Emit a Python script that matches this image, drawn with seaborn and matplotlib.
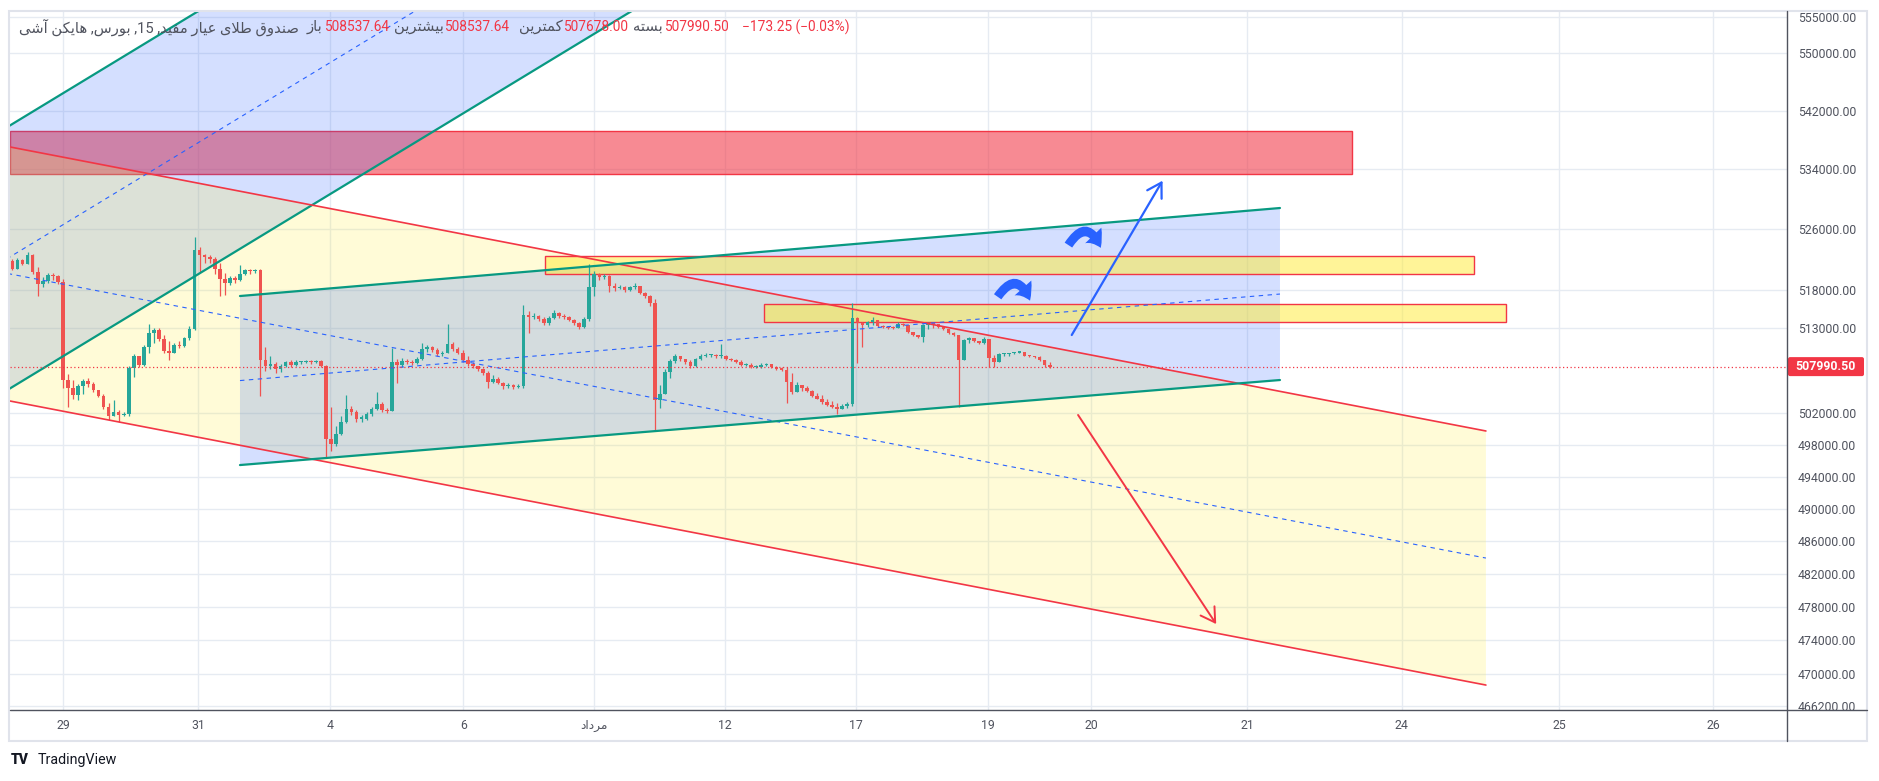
import re
import numpy as np
import pandas as pd
import matplotlib
matplotlib.use("Agg")
import matplotlib.pyplot as plt
import seaborn as sns
from matplotlib.patches import Rectangle, FancyArrowPatch, FancyBboxPatch, Polygon
from matplotlib.lines import Line2D
from matplotlib.ticker import NullLocator
from matplotlib.transforms import IdentityTransform

# ---------------- data ----------------
symbol_title = "صندوق طلای عیار مفید, 15, بورس, هایکن آشی"
ohlc_labels = ["باز", "بیشترین", "کمترین", "بسته"]
ohlc_values = ["508537.64", "508537.64", "507678.00", "507990.50"]
change_text = "\u2212173.25 (\u22120.03%)"
last_price = 507990.50
brand = "TradingView"

# candles (prices in thousands), bar index starts at first_bar, 13 bars per trading day
first_bar = 3
first_open = 521.75
closes = [
    # day 0
    520.76, 521.87, 521.38, 522.61, 520.27, 518.79, 519.16, 519.90, 519.78, 519.04,
    # 29
    506.22, 505.26, 504.30, 505.50, 506.10, 505.74, 505.02, 504.18, 502.87, 501.69, 502.16, 501.81, 501.93,
    # 30
    507.77, 509.32, 508.25, 510.53, 512.35, 512.71, 511.50, 510.04, 509.68, 510.77, 510.65, 511.62, 512.84,
    # 31
    523.23, 522.49, 522.24, 522.00, 520.76, 519.41, 518.91, 519.53, 519.28, 520.02, 520.52, 520.39, 520.52,
    # 1
    508.84, 508.01, 508.37, 507.65, 508.13, 508.61, 508.25, 508.61, 508.61, 508.73, 508.61, 508.73, 508.13,
    # 4
    498.74, 498.15, 499.45, 500.98, 502.63, 502.16, 501.34, 501.34, 501.93, 502.52, 503.23, 502.40, 502.28,
    # 5
    508.61, 508.25, 508.73, 508.61, 508.49, 508.96, 510.28, 510.53, 510.16, 509.56, 509.80, 510.89, 510.28,
    # 6
    509.80, 508.84, 508.37, 508.01, 507.65, 507.17, 505.98, 506.46, 505.86, 505.50, 505.62, 505.38, 505.50,
    # 7
    514.66, 514.41, 514.54, 514.17, 513.69, 514.33, 514.94, 514.58, 514.45, 513.97, 513.61, 513.13, 514.09,
    # 8
    518.32, 520.01, 519.64, 519.77, 518.44, 518.20, 518.32, 517.95, 518.32, 518.44, 517.59, 517.11, 516.27,
    # 11
    503.66, 504.50, 507.24, 508.68, 509.39, 508.92, 508.56, 508.08, 508.92, 509.39, 509.51, 509.51, 509.39,
    # 12
    509.39, 508.92, 508.80, 508.56, 508.20, 508.20, 507.96, 507.96, 508.20, 508.32, 507.96, 507.72, 507.60,
    # 13
    506.05, 504.74, 505.57, 505.21, 504.86, 504.26, 503.90, 503.42, 503.06, 502.83, 502.59, 502.94, 503.18,
    # 17
    514.28, 513.63, 513.40, 513.76, 514.02, 513.24, 513.11, 513.00, 512.98, 513.50, 513.40, 512.40, 512.07,
    # 18
    511.81, 513.37, 513.63, 513.50, 513.10, 512.85, 512.33, 512.07, 508.85, 511.42, 511.68, 511.29, 510.98,
    # 19
    511.50, 509.10, 508.60, 509.61, 509.65, 509.74, 509.80, 509.87, 509.40, 509.30, 509.20, 508.85, 508.20, 507.99,
]
highs = [
    522.00, 522.12, 522.00, 522.98, 522.74, 521.01, 519.65, 520.15, 520.15, 519.90,
    519.41, 507.05, 506.22, 505.74, 506.46, 506.58, 505.98, 505.02, 504.42, 503.35, 503.71, 502.40, 502.16,
    508.01, 509.56, 509.32, 510.77, 513.44, 512.96, 512.96, 512.11, 511.26, 511.01, 511.26, 511.86, 513.20,
    524.96, 523.60, 522.74, 522.49, 522.24, 521.50, 520.15, 519.78, 519.78, 521.26, 520.76, 520.64, 520.64,
    520.64, 510.53, 509.32, 508.61, 508.37, 508.73, 508.84, 508.84, 508.73, 508.84, 508.84, 508.84, 508.84,
    508.25, 502.87, 500.39, 501.69, 504.30, 502.99, 502.40, 501.81, 502.16, 502.87, 504.78, 503.47, 502.75,
    510.40, 508.96, 509.08, 508.96, 508.84, 509.20, 511.01, 510.77, 510.65, 510.40, 510.04, 513.44, 511.13,
    510.53, 510.16, 509.32, 508.61, 508.13, 507.77, 507.41, 506.93, 506.70, 505.98, 505.86, 505.74, 505.74,
    515.99, 515.14, 514.90, 514.66, 514.41, 514.58, 515.30, 515.06, 514.82, 514.58, 514.09, 513.73, 514.45,
    521.33, 520.49, 520.13, 520.01, 519.89, 518.80, 518.56, 518.44, 518.44, 518.80, 518.44, 517.71, 517.23,
    516.75, 505.69, 507.72, 508.92, 509.63, 509.39, 509.03, 508.80, 509.15, 509.63, 509.75, 509.63, 509.63,
    510.96, 509.51, 509.15, 509.03, 508.80, 508.44, 508.44, 508.20, 508.44, 508.44, 508.32, 508.08, 507.96,
    507.96, 507.12, 506.05, 505.69, 505.45, 504.98, 504.62, 504.38, 503.78, 503.54, 503.30, 503.18, 503.42,
    516.24, 514.41, 513.70, 513.90, 514.41, 514.00, 513.37, 513.30, 513.24, 513.70, 513.63, 513.40, 512.40,
    512.10, 513.50, 513.76, 513.70, 513.50, 513.10, 512.85, 512.40, 512.10, 511.55, 511.81, 511.70, 511.30,
    511.81, 511.50, 509.50, 509.70, 509.74, 509.80, 509.90, 510.00, 509.87, 509.50, 509.40, 509.30, 508.85, 508.59,
]
lows = [
    520.52, 520.64, 521.26, 521.30, 520.02, 517.09, 518.30, 518.91, 519.28, 518.67,
    505.26, 502.87, 503.83, 503.71, 504.54, 505.38, 504.78, 504.06, 502.63, 501.22, 501.69, 500.98, 501.69,
    501.69, 506.70, 507.89, 508.01, 509.68, 511.01, 511.26, 509.80, 508.84, 509.80, 510.40, 510.53, 511.38,
    512.71, 520.27, 521.50, 521.50, 520.02, 517.09, 517.33, 518.54, 518.91, 519.16, 519.90, 520.02, 520.15,
    504.18, 507.41, 507.65, 507.17, 507.29, 507.89, 507.89, 508.01, 508.37, 508.49, 508.37, 508.49, 507.89,
    496.38, 497.21, 497.91, 499.21, 500.75, 501.81, 500.98, 500.86, 501.22, 501.69, 502.40, 502.16, 502.04,
    502.28, 505.86, 507.89, 508.37, 508.25, 508.37, 508.84, 509.92, 509.92, 509.32, 509.32, 509.80, 510.04,
    509.56, 508.61, 508.01, 507.77, 507.41, 506.93, 505.26, 505.86, 505.74, 505.14, 505.26, 505.14, 505.26,
    505.26, 512.35, 514.17, 513.93, 513.32, 513.37, 514.21, 514.33, 514.21, 513.85, 513.37, 512.89, 513.01,
    513.85, 517.11, 519.28, 519.40, 517.71, 517.83, 518.08, 517.71, 517.83, 518.08, 517.35, 516.87, 515.90,
    499.84, 502.71, 504.86, 506.53, 508.44, 508.68, 508.32, 507.84, 507.96, 508.80, 509.27, 509.27, 509.15,
    509.15, 508.80, 508.68, 508.44, 508.08, 508.08, 507.84, 507.84, 507.84, 508.08, 507.84, 507.60, 507.48,
    503.30, 504.50, 504.86, 504.86, 504.74, 504.14, 503.78, 503.18, 502.94, 502.71, 501.99, 502.59, 502.71,
    502.90, 508.46, 510.50, 513.10, 513.37, 513.10, 512.98, 512.90, 512.85, 512.98, 513.20, 512.30, 511.90,
    511.70, 511.16, 512.90, 513.00, 513.00, 512.75, 512.20, 511.95, 502.88, 508.80, 511.00, 511.16, 510.90,
    510.90, 507.95, 507.95, 508.60, 509.40, 509.40, 509.60, 509.70, 509.30, 509.20, 509.10, 508.70, 508.00, 507.82,
]

x_tick_pos = [13.0, 39.7, 65.8, 92.1, 117.9, 143.8, 169.7, 195.8, 216.2, 247.0, 277.6, 308.7, 339.1]
x_tick_labels = ["29", "31", "4", "6", "مرداد", "12", "17", "19", "20", "21", "24", "25", "26"]
y_ticks = [555000, 550000, 542000, 534000, 526000, 518000, 513000, 502000, 498000,
           494000, 490000, 486000, 482000, 478000, 474000, 470000, 466200]

# drawings: anchor points (bar index, price in thousands)
steep_upper_x, steep_upper_p = [0, 45], [538.91, 558.10]
steep_lower_x, steep_lower_p = [0, 130], [504.20, 557.83]
steep_mid_x, steep_mid_p = [0, 90], [521.27, 559.05]
desc_x = [0, 294.2]
desc_upper_p = [537.37, 499.78]
desc_lower_p = [503.90, 468.65]
desc_mid_p = [520.37, 483.96]
asc_x = [47.98, 253.5]
asc_upper_p = [517.15, 528.80]
asc_lower_p = [495.49, 506.27]
asc_mid_p = [506.20, 517.41]
red_zone = [2.6, 267.8, 533.37, 539.21]
yellow_zones = [[108.26, 291.9, 520.04, 522.42], [151.54, 298.2, 513.76, 516.11]]
up_arrow = [(212.35, 512.07), (230.3, 532.47)]
down_arrow = [(213.6, 501.81), (240.9, 475.94)]
curl_arrows = [[(211.4, 523.55), (218.3, 523.15)], [(197.4, 516.75), (204.3, 516.20)]]

# ---------------- helpers ----------------
AR_FORMS = {
    '\u0627': ('\uFE8D', '\uFE8E', None, None),
    '\u0622': ('\uFE81', '\uFE82', None, None),
    '\u0628': ('\uFE8F', '\uFE90', '\uFE91', '\uFE92'),
    '\u062A': ('\uFE95', '\uFE96', '\uFE97', '\uFE98'),
    '\u062F': ('\uFEA9', '\uFEAA', None, None),
    '\u0631': ('\uFEAD', '\uFEAE', None, None),
    '\u0632': ('\uFEAF', '\uFEB0', None, None),
    '\u0633': ('\uFEB1', '\uFEB2', '\uFEB3', '\uFEB4'),
    '\u0634': ('\uFEB5', '\uFEB6', '\uFEB7', '\uFEB8'),
    '\u0635': ('\uFEB9', '\uFEBA', '\uFEBB', '\uFEBC'),
    '\u0637': ('\uFEC1', '\uFEC2', '\uFEC3', '\uFEC4'),
    '\u0639': ('\uFEC9', '\uFECA', '\uFECB', '\uFECC'),
    '\u0641': ('\uFED1', '\uFED2', '\uFED3', '\uFED4'),
    '\u0642': ('\uFED5', '\uFED6', '\uFED7', '\uFED8'),
    '\u0644': ('\uFEDD', '\uFEDE', '\uFEDF', '\uFEE0'),
    '\u0645': ('\uFEE1', '\uFEE2', '\uFEE3', '\uFEE4'),
    '\u0646': ('\uFEE5', '\uFEE6', '\uFEE7', '\uFEE8'),
    '\u0647': ('\uFEE9', '\uFEEA', '\uFEEB', '\uFEEC'),
    '\u0648': ('\uFEED', '\uFEEE', None, None),
    '\u06A9': ('\uFB8E', '\uFB8F', '\uFB90', '\uFB91'),
    '\u06CC': ('\uFBFC', '\uFBFD', '\uFBFE', '\uFBFF'),
}
LAM_ALEF = {'\u0627': ('\uFEFB', '\uFEFC'), '\u0622': ('\uFEF5', '\uFEF6')}


def rtl(s):
    def dual(ch):
        f = AR_FORMS.get(ch)
        return f is not None and f[2] is not None
    out, i, n = [], 0, len(s)
    while i < n:
        ch = s[i]
        if ch not in AR_FORMS:
            out.append(ch); i += 1; continue
        jp = i > 0 and dual(s[i - 1])
        if ch == '\u0644' and i + 1 < n and s[i + 1] in LAM_ALEF:
            out.append(LAM_ALEF[s[i + 1]][1 if jp else 0]); i += 2; continue
        jn = dual(ch) and i + 1 < n and s[i + 1] in AR_FORMS
        f = AR_FORMS[ch]
        out.append(f[3] if (jp and jn) else f[1] if jp else f[2] if jn else f[0])
        i += 1
    vis = ''.join(reversed(out))
    return re.sub(r'[0-9.]+', lambda m: m.group(0)[::-1], vis)


# ---------------- figure ----------------
sns.set_theme(style="white")
plt.rcParams['font.family'] = ['Roboto', 'DejaVu Sans']
W, H = 1879, 781
fig = plt.figure(figsize=(W / 100, H / 100), dpi=100)
fig.patch.set_facecolor('white')


def fx(px):
    return px / W


def fy(py):
    return 1 - py / H


ax = fig.add_axes([fx(10), fy(710), (1787 - 10) / W, (710 - 11) / H])
ax.set_facecolor('white')
ax.set_yscale('log')

K = 1000.0
TEAL, RED, BLUE = '#089981', '#f23645', '#2962ff'

# zones and channel fills
rz = red_zone
ax.add_patch(Rectangle((rz[0], rz[2] * K), rz[1] - rz[0], (rz[3] - rz[2]) * K,
                       fc=(0.949, 0.212, 0.271, 0.58), ec=RED, lw=1.0, zorder=1))
ax.add_patch(Polygon([(steep_upper_x[0], steep_upper_p[0] * K), (steep_upper_x[1], steep_upper_p[1] * K),
                      (steep_lower_x[1], steep_lower_p[1] * K), (steep_lower_x[0], steep_lower_p[0] * K)],
                     closed=True, fc=BLUE, alpha=0.2, lw=0, zorder=2))
ax.add_patch(Polygon([(desc_x[0], desc_upper_p[0] * K), (desc_x[1], desc_upper_p[1] * K),
                      (desc_x[1], desc_lower_p[1] * K), (desc_x[0], desc_lower_p[0] * K)],
                     closed=True, fc='#ffeb3b', alpha=0.2, lw=0, zorder=2))
ax.add_patch(Polygon([(asc_x[0], asc_upper_p[0] * K), (asc_x[1], asc_upper_p[1] * K),
                      (asc_x[1], asc_lower_p[1] * K), (asc_x[0], asc_lower_p[0] * K)],
                     closed=True, fc=BLUE, alpha=0.2, lw=0, zorder=2))
for yz in yellow_zones:
    ax.add_patch(Rectangle((yz[0], yz[2] * K), yz[1] - yz[0], (yz[3] - yz[2]) * K,
                           fc=(1.0, 0.922, 0.231, 0.52), ec=RED, lw=1.0, zorder=3))

# candles
xb = np.arange(first_bar, first_bar + len(closes))
c = np.array(closes) * K
o = np.concatenate([[first_open], closes[:-1]]) * K
h = np.maximum(np.array(highs) * K, np.maximum(o, c))
l = np.minimum(np.array(lows) * K, np.minimum(o, c))
col = np.where(c >= o, '#26a69a', '#ef5350')
ax.vlines(xb, l, h, colors=col, lw=0.9, zorder=4)
ax.bar(xb, np.maximum(np.abs(c - o), 150), bottom=np.minimum(o, c), width=0.72,
       color=col, lw=0, zorder=4)


def trend(xs, ps, color, lw, ls='-'):
    sns.lineplot(x=list(xs), y=[p * K for p in ps], ax=ax, color=color, lw=lw,
                 linestyle=ls, zorder=5, estimator=None, sort=False, legend=False)


trend(steep_upper_x, steep_upper_p, TEAL, 1.6)
trend(steep_lower_x, steep_lower_p, TEAL, 1.6)
trend(steep_mid_x, steep_mid_p, BLUE, 0.8, (0, (4, 4)))
trend(desc_x, desc_upper_p, RED, 1.2)
trend(desc_x, desc_lower_p, RED, 1.2)
trend(desc_x, desc_mid_p, BLUE, 0.8, (0, (4, 4)))
trend(asc_x, asc_upper_p, TEAL, 1.6)
trend(asc_x, asc_lower_p, TEAL, 1.6)
trend(asc_x, asc_mid_p, BLUE, 0.8, (0, (4, 4)))

ax.axhline(last_price, color=RED, lw=0.9, ls=(0, (1, 2)), zorder=5)

# arrows
ax.annotate('', xy=(up_arrow[1][0], up_arrow[1][1] * K), xytext=(up_arrow[0][0], up_arrow[0][1] * K),
            arrowprops=dict(arrowstyle='->,head_length=0.5,head_width=0.3', color=BLUE, lw=1.6,
                            mutation_scale=20, shrinkA=0, shrinkB=0), zorder=6)
ax.annotate('', xy=(down_arrow[1][0], down_arrow[1][1] * K), xytext=(down_arrow[0][0], down_arrow[0][1] * K),
            arrowprops=dict(arrowstyle='->,head_length=0.5,head_width=0.3', color=RED, lw=1.4,
                            mutation_scale=20, shrinkA=0, shrinkB=0), zorder=6)
for a, b in curl_arrows:
    ax.add_patch(FancyArrowPatch((a[0], a[1] * K), (b[0], b[1] * K), connectionstyle='arc3,rad=-1.0',
                                 arrowstyle='simple,head_length=0.55,head_width=0.85,tail_width=0.34',
                                 mutation_scale=19, color=BLUE, lw=0, zorder=6))

# axes setup
ax.set_xlim(2.53, 353.7)
ax.set_ylim(465700, 555840)
ax.set_xlabel('')
ax.set_ylabel('')
ax.yaxis.tick_right()
ax.set_yticks(y_ticks)
ax.set_yticklabels([f"{v:.2f}" for v in y_ticks])
ax.yaxis.set_minor_locator(NullLocator())
ax.set_xticks(x_tick_pos)
ax.set_xticklabels([rtl(t) for t in x_tick_labels])
ax.xaxis.set_minor_locator(NullLocator())
ax.tick_params(axis='y', length=0, pad=8, labelsize=8.8, labelcolor='#50535e')
ax.tick_params(axis='x', length=0, pad=6.5, labelsize=8.8, labelcolor='#50535e')
ax.grid(True, which='major', color='#e6ebf2', lw=1.0)
ax.set_axisbelow(True)
for s in ax.spines.values():
    s.set_visible(False)

# frame
fig.add_artist(Rectangle((fx(9), fy(741)), 1858 / W, 730 / H, transform=fig.transFigure,
                         fill=False, ec='#e0e3eb', lw=1.5))
fig.add_artist(Line2D([fx(10), fx(1867)], [fy(710), fy(710)], transform=fig.transFigure,
                      color='#50535e', lw=1.0))
fig.add_artist(Line2D([fx(1787), fx(1787)], [fy(11), fy(741)], transform=fig.transFigure,
                      color='#50535e', lw=1.0))

# last price label
fig.canvas.draw()
renderer = fig.canvas.get_renderer()
yd = ax.transData.transform((10, last_price))[1]
fig.add_artist(FancyBboxPatch((1788, yd - 9.5), 76, 19, boxstyle='round,pad=0,rounding_size=2',
                              transform=IdentityTransform(), fc=RED, ec='none'))
fig.text(fx(1826), yd / H, f"{last_price:.2f}", color='white', fontsize=8.9, fontweight='bold',
         ha='center', va='center')

# header, laid out left to right
GRAY = '#50535e'
header = [(rtl(symbol_title), GRAY, 10.6, 8),
          (rtl(ohlc_labels[0]), GRAY, 10.6, 1), (ohlc_values[0], RED, 9.9, 5),
          (rtl(ohlc_labels[1]), GRAY, 10.6, 1), (ohlc_values[1], RED, 9.9, 9),
          (rtl(ohlc_labels[2]), GRAY, 10.6, 1), (ohlc_values[2], RED, 9.9, 5),
          (rtl(ohlc_labels[3]), GRAY, 10.6, 1), (ohlc_values[3], RED, 9.9, 13),
          (change_text, RED, 9.9, 0)]
xpos = 19
for txt, cc, fs, gap in header:
    t = fig.text(fx(xpos), fy(27), txt, color=cc, fontsize=fs, ha='left', va='center')
    bb = t.get_window_extent(renderer=renderer)
    xpos += bb.width + gap

# brand
fig.text(fx(11), fy(760), "TV", color='#131722', fontsize=10, fontweight='heavy', ha='left', va='center')
fig.text(fx(38), fy(760), brand, color='#131722', fontsize=10.3, ha='left', va='center')

fig.savefig('out.png', dpi=100)
